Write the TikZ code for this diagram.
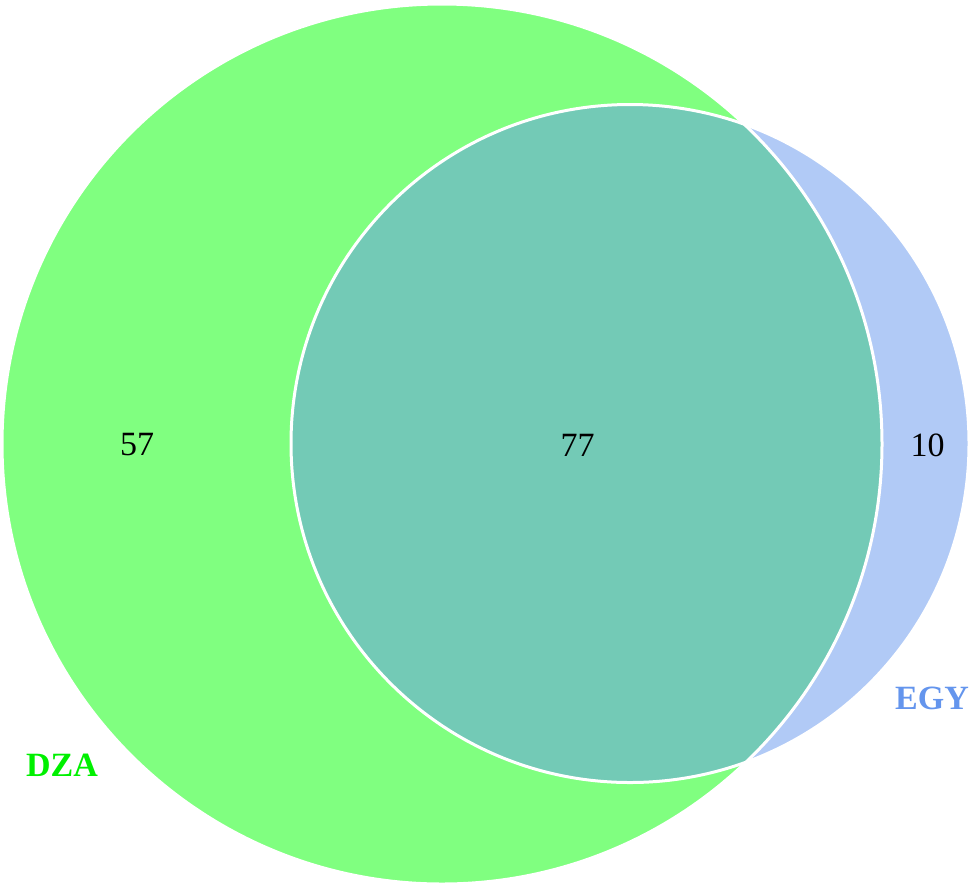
\documentclass[tikz,border=0pt]{standalone}
\usepackage{fontspec}
\setmainfont{Liberation Serif}
\definecolor{dzafill}{HTML}{80FF80}
\definecolor{egyfill}{HTML}{B1CAF6}
\definecolor{bothfill}{HTML}{73CAB6}
\definecolor{dzatext}{HTML}{00F000}
\definecolor{egytext}{HTML}{6495ED}
\begin{document}
\begin{tikzpicture}[x=1pt,y=-1pt,
  count/.style={font=\fontsize{34}{40}\selectfont, text=black, inner sep=0pt},
  setlabel/.style={font=\fontsize{34}{40}\selectfont\bfseries, inner sep=0pt},
  outline/.style={draw=white, line width=3pt}]
\useasboundingbox (0,0) rectangle (973,887);
\coordinate (cA) at (442,444);
\coordinate (cB) at (630,443.5);
\fill[dzafill] (cA) circle[radius=440];
\fill[egyfill] (cB) circle[radius=339];
\begin{scope}
  \clip (cA) circle[radius=440];
  \fill[bothfill] (cB) circle[radius=339];
\end{scope}
\draw[outline] (cA) circle[radius=440];
\draw[outline] (cB) circle[radius=339];
\node[count] (nA) at (137,445) {57};
\node[count] (nAB) at (577.5,445) {77};
\node[count] (nB) at (927.5,445) {10};
\node[setlabel, text=dzatext] (lA) at (62,765) {DZA};
\node[setlabel, text=egytext] (lB) at (932,698) {EGY};
\end{tikzpicture}
\end{document}
